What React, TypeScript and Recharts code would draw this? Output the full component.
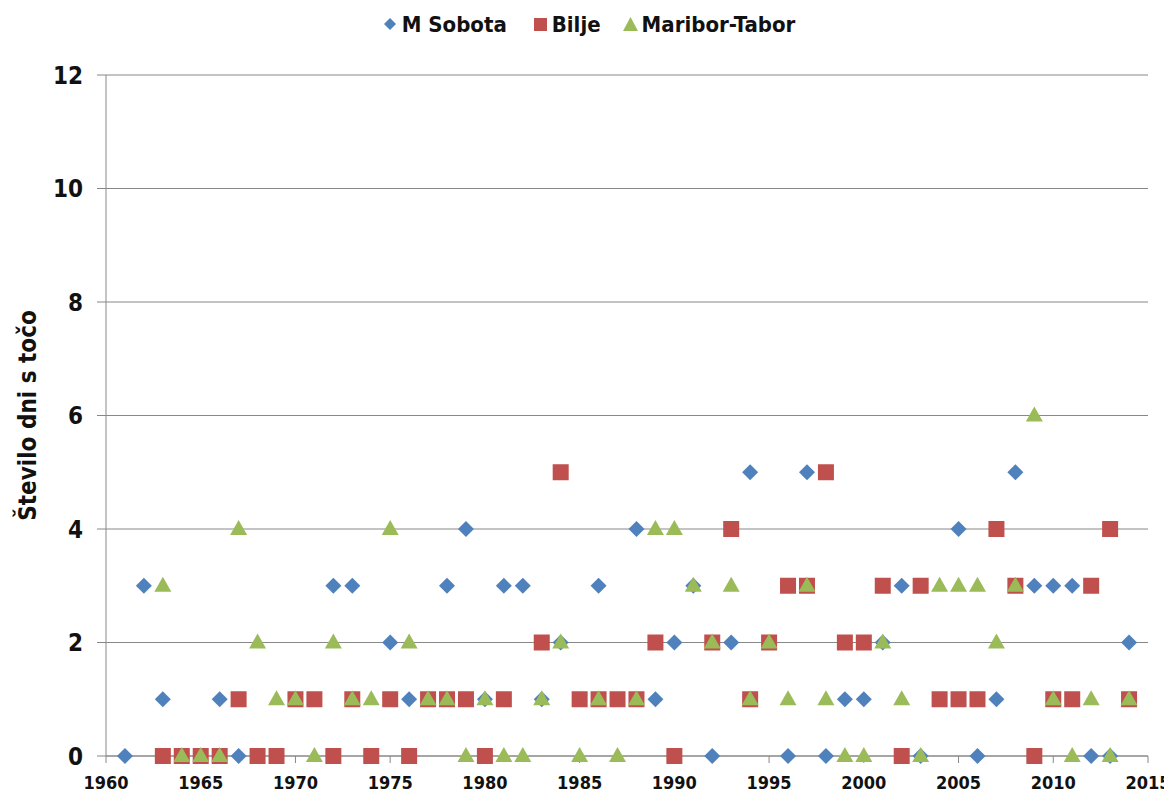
import { ScatterChart, Scatter, XAxis, YAxis, CartesianGrid } from "recharts";

const years = [
  1961, 1962, 1963, 1964, 1965, 1966, 1967, 1968, 1969, 1970,
  1971, 1972, 1973, 1974, 1975, 1976, 1977, 1978, 1979, 1980,
  1981, 1982, 1983, 1984, 1985, 1986, 1987, 1988, 1989, 1990,
  1991, 1992, 1993, 1994, 1995, 1996, 1997, 1998, 1999, 2000,
  2001, 2002, 2003, 2004, 2005, 2006, 2007, 2008, 2009, 2010,
  2011, 2012, 2013, 2014,
];

// null = point not visible in the source (hidden behind another marker or missing)
const mSobota = [
  0, 3, 1, null, null, 1, 0, null, null, null,
  null, 3, 3, null, 2, 1, null, 3, 4, 1,
  3, 3, 1, 2, null, 3, null, 4, 1, 2,
  3, 0, 2, 5, null, 0, 5, 0, 1, 1,
  2, 3, 0, null, 4, 0, 1, 5, 3, 3,
  3, 0, 0, 2,
];

const bilje = [
  null, null, 0, 0, 0, 0, 1, 0, 0, 1,
  1, 0, 1, 0, 1, 0, 1, 1, 1, 0,
  1, null, 2, 5, 1, 1, 1, 1, 2, 0,
  null, 2, 4, 1, 2, 3, 3, 5, 2, 2,
  3, 0, 3, 1, 1, 1, 4, 3, 0, 1,
  1, 3, 4, 1,
];

const mariborTabor = [
  null, null, 3, 0, 0, 0, 4, 2, 1, 1,
  0, 2, 1, 1, 4, 2, 1, 1, 0, 1,
  0, 0, 1, 2, 0, 1, 0, 1, 4, 4,
  3, 2, 3, 1, 2, 1, 3, 1, 0, 0,
  2, 1, 0, 3, 3, 3, 2, 3, 6, 1,
  0, 1, 0, 1,
];

const xTicks = [1960, 1965, 1970, 1975, 1980, 1985, 1990, 1995, 2000, 2005, 2010, 2015];
const yTicks = [0, 2, 4, 6, 8, 10, 12];

const BLUE = "#4F81BD";
const RED = "#C0504D";
const GREEN = "#9BBB59";

const toPoints = (vals: (number | null)[]) =>
  years
    .map((y, i) => ({ year: y, value: vals[i] }))
    .filter((d) => d.value !== null);

const Diamond = (p: any) => (
  <polygon
    points={`${p.cx},${p.cy - 8} ${p.cx + 8},${p.cy} ${p.cx},${p.cy + 8} ${p.cx - 8},${p.cy}`}
    fill={BLUE}
  />
);
const Square = (p: any) => (
  <rect x={p.cx - 8} y={p.cy - 8} width={16} height={16} fill={RED} />
);
const Triangle = (p: any) => (
  <polygon
    points={`${p.cx},${p.cy - 9} ${p.cx + 8.5},${p.cy + 6} ${p.cx - 8.5},${p.cy + 6}`}
    fill={GREEN}
  />
);

const font = "'Liberation Sans Narrow', 'DejaVu Sans Condensed', 'Open Sans', sans-serif";

const LegendItem = ({ icon, label, gap }: { icon: JSX.Element; label: string; gap: number }) => (
  <span style={{ display: "inline-flex", alignItems: "center", marginRight: gap }}>
    <svg width={15} height={14} style={{ marginRight: 4 }}>
      {icon}
    </svg>
    <span>{label}</span>
  </span>
);

export default function App() {
  return (
    <div style={{ position: "relative", width: 1164, height: 788, fontFamily: font }}>
      <div
        style={{
          position: "absolute",
          top: 3,
          left: -1,
          width: 1164,
          textAlign: "center",
          fontWeight: 700,
          fontSize: 22,
          color: "#111",
          whiteSpace: "nowrap",
        }}
      >
        <LegendItem gap={26} icon={<polygon points="7,1 13,7 7,13 1,7" fill={BLUE} />} label="M Sobota" />
        <LegendItem gap={22} icon={<rect x={1} y={1} width={13} height={13} fill={RED} />} label="Bilje" />
        <LegendItem gap={0} icon={<polygon points="7.5,0 15,14 0,14" fill={GREEN} />} label="Maribor-Tabor" />
      </div>
      <ScatterChart
        width={1164}
        height={788}
        margin={{ top: 67, right: 24, bottom: 0, left: 0 }}
        style={{ overflow: "visible" }}
      >
        <CartesianGrid horizontal vertical={false} stroke="#888888" />
        <XAxis
          type="number"
          dataKey="year"
          domain={[1960, 2015]}
          ticks={xTicks}
          height={40}
          stroke="#888888"
          tickSize={7}
          tickMargin={13}
          tick={{ fill: "#111", fontSize: 18, fontWeight: 700, fontFamily: font }}
        />
        <YAxis
          type="number"
          dataKey="value"
          domain={[0, 12]}
          ticks={yTicks}
          width={98}
          stroke="#888888"
          tickSize={9}
          tickMargin={14}
          tick={{ fill: "#111", fontSize: 24, fontWeight: 700, fontFamily: font }}
          label={{
            value: "Število dni s točo",
            angle: -90,
            position: "insideLeft",
            offset: 19,
            style: { fill: "#111", fontSize: 24, fontWeight: 700, fontFamily: font, textAnchor: "middle" },
          }}
        />
        <Scatter name="M Sobota" data={toPoints(mSobota)} shape={Diamond} isAnimationActive={false} />
        <Scatter name="Bilje" data={toPoints(bilje)} shape={Square} isAnimationActive={false} />
        <Scatter name="Maribor-Tabor" data={toPoints(mariborTabor)} shape={Triangle} isAnimationActive={false} />
      </ScatterChart>
    </div>
  );
}
